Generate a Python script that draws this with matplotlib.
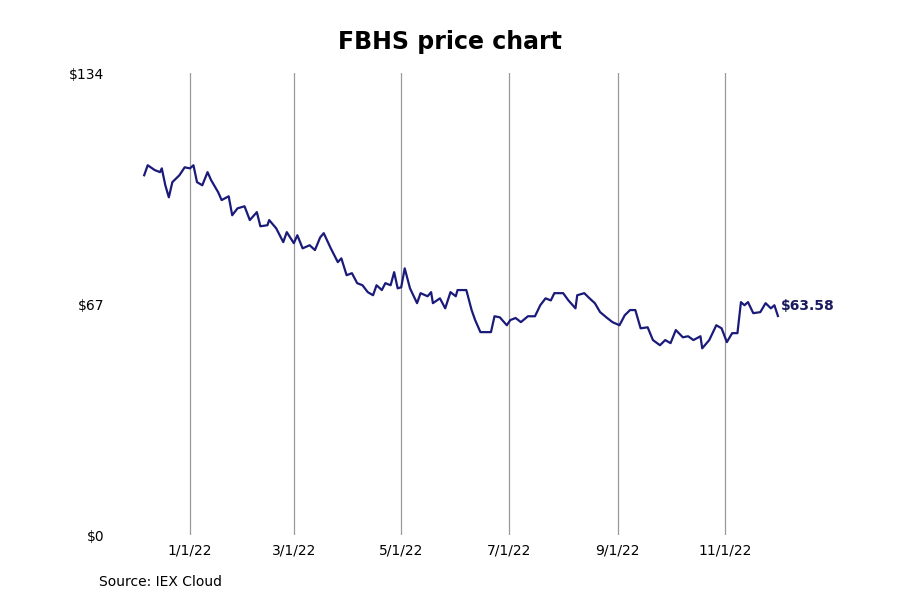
import matplotlib
matplotlib.use("Agg")
import matplotlib.pyplot as plt
import datetime as dt

day_offsets = [-26,-24,-20,-17,-16,-14,-12,-10,-6,-3,0,2,4,7,10,12,16,18,22,24,27,31,34,38,40,44,45,49,53,55,59,61,64,68,71,74,76,80,84,86,89,92,95,98,101,104,106,109,111,114,116,118,120,122,125,129,131,135,137,138,142,145,148,151,152,157,160,162,165,171,173,176,180,182,185,188,192,196,199,202,205,207,212,215,219,220,224,227,230,233,237,240,244,247,250,253,256,260,263,267,270,273,276,280,283,286,290,291,295,299,302,305,308,311,313,315,317,320,324,327,330,332,334]
prices = [104.4,107.3,105.9,105.3,106.4,101.5,98,102.4,104.4,106.7,106.4,107.3,102.4,101.5,105.3,103,99.5,97.2,98.3,92.8,94.8,95.4,91.4,93.7,89.6,89.9,91.4,89,85,87.9,84.7,87,83.2,84.1,82.7,86.4,87.6,83.2,79.2,80.3,75.4,76,73.1,72.5,70.5,69.6,72.5,71.1,73.1,72.5,76.3,71.6,71.9,77.4,71.6,67.3,70.2,69.3,70.5,67.3,68.7,65.8,70.5,69.3,71.1,71.1,65.3,62.4,58.9,58.9,63.5,63.2,60.9,62.4,63,61.8,63.5,63.5,66.7,68.7,68.1,70.2,70.2,68.1,65.8,69.6,70.2,68.7,67.3,64.7,63,61.8,60.9,63.8,65.3,65.3,60,60.3,56.6,55.1,56.6,55.7,59.5,57.4,57.7,56.6,57.7,54.2,56.6,60.9,60,56,58.6,58.6,67.6,66.7,67.6,64.4,64.7,67.3,65.8,66.7,63.58]
tick_dates = ["2022-01-01","2022-03-01","2022-05-01","2022-07-01","2022-09-01","2022-11-01"]
tick_labels = ["1/1/22","3/1/22","5/1/22","7/1/22","9/1/22","11/1/22"]
y_ticks = [0, 67, 134]
y_labels = ["$0", "$67", "$134"]

base = dt.date(2022, 1, 1)
dates = [base + dt.timedelta(days=d) for d in day_offsets]

fig = plt.figure(figsize=(9, 6), dpi=100)
ax = fig.add_axes([0.125, 0.108, 0.755, 0.77])
ax.plot(dates, prices, color="#1a1a7a", lw=1.6)
ax.set_ylim(0, 134)
ax.set_xlim(base + dt.timedelta(days=-44), base + dt.timedelta(days=342))
ax.set_yticks(y_ticks, y_labels, fontsize=10)
ax.set_xticks([dt.date.fromisoformat(s) for s in tick_dates], tick_labels, fontsize=10)
for s in ax.spines.values():
    s.set_visible(False)
ax.tick_params(length=0, pad=6)
ax.grid(axis="x", color="#999999", lw=0.9)
ax.set_axisbelow(True)
ax.annotate(f"${prices[-1]:.2f}", (dates[-1], prices[-1]), xytext=(2, 7), textcoords="offset points",
            color="#1a1a5e", fontsize=10, fontweight="bold", va="center", ha="left")
fig.text(0.5, 0.93, "FBHS price chart", ha="center", va="center", fontsize=17, fontweight="bold")
fig.text(0.11, 0.03, "Source: IEX Cloud", ha="left", va="center", fontsize=10)
fig.savefig("out.png")
